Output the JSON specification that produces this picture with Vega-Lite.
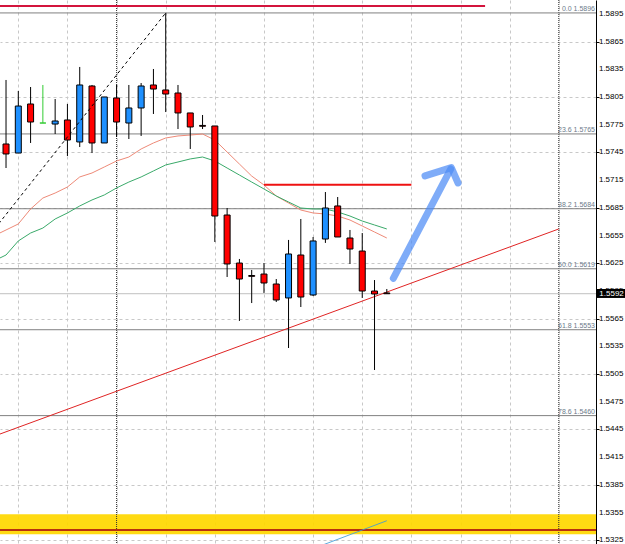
{
  "$schema": "https://vega.github.io/schema/vega-lite/v6.json",
  "width": 596,
  "height": 544,
  "padding": {"left": 0, "top": 0, "bottom": 0, "right": 29},
  "autosize": {"type": "none"},
  "background": "#ffffff",
  "config": {"view": {"stroke": null}, "scale": {"continuousPadding": 0}},
  "datasets": {
    "candles": [
      {"i":0,"open":1.57541,"high":1.58234,"low":1.57281,"close":1.57433},
      {"i":1,"open":1.57443,"high":1.58115,"low":1.57443,"close":1.57952},
      {"i":2,"open":1.57974,"high":1.58158,"low":1.57552,"close":1.57779},
      {"i":3,"open":1.57768,"high":1.5818,"low":1.57768,"close":1.57768},
      {"i":4,"open":1.57757,"high":1.58028,"low":1.57649,"close":1.5779},
      {"i":5,"open":1.57801,"high":1.57974,"low":1.57411,"close":1.57584},
      {"i":6,"open":1.57563,"high":1.58375,"low":1.57508,"close":1.5818},
      {"i":7,"open":1.58169,"high":1.5818,"low":1.57443,"close":1.57552},
      {"i":8,"open":1.57552,"high":1.5805,"low":1.57552,"close":1.5805},
      {"i":9,"open":1.58039,"high":1.5818,"low":1.57617,"close":1.57779},
      {"i":10,"open":1.57768,"high":1.5818,"low":1.57595,"close":1.57931},
      {"i":11,"open":1.57931,"high":1.58201,"low":1.57628,"close":1.58169},
      {"i":12,"open":1.5818,"high":1.58353,"low":1.57866,"close":1.58136},
      {"i":13,"open":1.58126,"high":1.5896,"low":1.57887,"close":1.58082},
      {"i":14,"open":1.58093,"high":1.5818,"low":1.57703,"close":1.57877},
      {"i":15,"open":1.57877,"high":1.57877,"low":1.57487,"close":1.57725},
      {"i":16,"open":1.57742,"high":1.57855,"low":1.57703,"close":1.57733},
      {"i":17,"open":1.57736,"high":1.57736,"low":1.5648,"close":1.56761},
      {"i":18,"open":1.56772,"high":1.56848,"low":1.56101,"close":1.56242},
      {"i":19,"open":1.56252,"high":1.56296,"low":1.55625,"close":1.56079},
      {"i":20,"open":1.56117,"high":1.56177,"low":1.55819,"close":1.56108},
      {"i":21,"open":1.56133,"high":1.56252,"low":1.55928,"close":1.56036},
      {"i":22,"open":1.56025,"high":1.56079,"low":1.5583,"close":1.55852},
      {"i":23,"open":1.55874,"high":1.56502,"low":1.55332,"close":1.5635},
      {"i":24,"open":1.56339,"high":1.56729,"low":1.55776,"close":1.55884},
      {"i":25,"open":1.55906,"high":1.56534,"low":1.55895,"close":1.56491},
      {"i":26,"open":1.56512,"high":1.57021,"low":1.5647,"close":1.56848},
      {"i":27,"open":1.5687,"high":1.56967,"low":1.56534,"close":1.56534},
      {"i":28,"open":1.56523,"high":1.5661,"low":1.56242,"close":1.56404},
      {"i":29,"open":1.56382,"high":1.56577,"low":1.55874,"close":1.55949},
      {"i":30,"open":1.55949,"high":1.56068,"low":1.55094,"close":1.55917},
      {"i":31,"open":1.55928,"high":1.55971,"low":1.55917,"close":1.5592}
    ],
    "ma": [
      {"i":-1,"v":1.56545,"s":"fast"},{"i":0,"v":1.5661,"s":"fast"},{"i":1,"v":1.56675,"s":"fast"},{"i":2,"v":1.56837,"s":"fast"},
      {"i":3,"v":1.56956,"s":"fast"},{"i":4,"v":1.5701,"s":"fast"},{"i":5,"v":1.57075,"s":"fast"},{"i":6,"v":1.57184,"s":"fast"},
      {"i":7,"v":1.57227,"s":"fast"},{"i":8,"v":1.57292,"s":"fast"},{"i":9,"v":1.57357,"s":"fast"},{"i":10,"v":1.574,"s":"fast"},
      {"i":11,"v":1.57487,"s":"fast"},{"i":12,"v":1.57552,"s":"fast"},{"i":13,"v":1.57606,"s":"fast"},{"i":14,"v":1.57628,"s":"fast"},
      {"i":15,"v":1.57638,"s":"fast"},{"i":16,"v":1.57649,"s":"fast"},{"i":17,"v":1.57584,"s":"fast"},{"i":18,"v":1.57454,"s":"fast"},
      {"i":19,"v":1.57324,"s":"fast"},{"i":20,"v":1.57194,"s":"fast"},{"i":21,"v":1.57097,"s":"fast"},{"i":22,"v":1.56978,"s":"fast"},
      {"i":23,"v":1.56902,"s":"fast"},{"i":24,"v":1.56826,"s":"fast"},{"i":25,"v":1.56794,"s":"fast"},{"i":26,"v":1.56783,"s":"fast"},
      {"i":27,"v":1.56761,"s":"fast"},{"i":28,"v":1.56718,"s":"fast"},{"i":29,"v":1.56653,"s":"fast"},{"i":30,"v":1.56588,"s":"fast"},
      {"i":31,"v":1.56523,"s":"fast"},
      {"i":-1,"v":1.56274,"s":"slow"},{"i":0,"v":1.56339,"s":"slow"},{"i":1,"v":1.56491,"s":"slow"},{"i":2,"v":1.56577,"s":"slow"},
      {"i":3,"v":1.56631,"s":"slow"},{"i":4,"v":1.56729,"s":"slow"},{"i":5,"v":1.56794,"s":"slow"},{"i":6,"v":1.5687,"s":"slow"},
      {"i":7,"v":1.56935,"s":"slow"},{"i":8,"v":1.56989,"s":"slow"},{"i":9,"v":1.57065,"s":"slow"},{"i":10,"v":1.57129,"s":"slow"},
      {"i":11,"v":1.57184,"s":"slow"},{"i":12,"v":1.57249,"s":"slow"},{"i":13,"v":1.57314,"s":"slow"},{"i":14,"v":1.57346,"s":"slow"},
      {"i":15,"v":1.57379,"s":"slow"},{"i":16,"v":1.574,"s":"slow"},{"i":17,"v":1.57357,"s":"slow"},{"i":18,"v":1.57281,"s":"slow"},
      {"i":19,"v":1.57205,"s":"slow"},{"i":20,"v":1.57129,"s":"slow"},{"i":21,"v":1.57054,"s":"slow"},{"i":22,"v":1.56978,"s":"slow"},
      {"i":23,"v":1.56913,"s":"slow"},{"i":24,"v":1.56848,"s":"slow"},{"i":25,"v":1.56837,"s":"slow"},{"i":26,"v":1.56837,"s":"slow"},
      {"i":27,"v":1.56805,"s":"slow"},{"i":28,"v":1.56761,"s":"slow"},{"i":29,"v":1.56707,"s":"slow"},{"i":30,"v":1.56664,"s":"slow"},
      {"i":31,"v":1.56621,"s":"slow"}
    ],
    "fib": [
      {"p":1.5896,"label":"0.0 1.5896"},
      {"p":1.5765,"label":"23.6 1.5765"},
      {"p":1.5684,"label":"38.2 1.5684"},
      {"p":1.5619,"label":"50.0 1.5619"},
      {"p":1.5553,"label":"61.8 1.5553"},
      {"p":1.546,"label":"78.6 1.5460"}
    ],
    "ticks": [
      {"p":1.5325,"label":"1.5325"},{"p":1.5355,"label":"1.5355"},{"p":1.5385,"label":"1.5385"},{"p":1.5415,"label":"1.5415"},
      {"p":1.5445,"label":"1.5445"},{"p":1.5475,"label":"1.5475"},{"p":1.5505,"label":"1.5505"},{"p":1.5535,"label":"1.5535"},
      {"p":1.5565,"label":"1.5565"},{"p":1.5595,"label":"1.5595"},{"p":1.5625,"label":"1.5625"},{"p":1.5655,"label":"1.5655"},
      {"p":1.5685,"label":"1.5685"},{"p":1.5715,"label":"1.5715"},{"p":1.5745,"label":"1.5745"},{"p":1.5775,"label":"1.5775"},
      {"p":1.5805,"label":"1.5805"},{"p":1.5835,"label":"1.5835"},{"p":1.5865,"label":"1.5865"},{"p":1.5895,"label":"1.5895"}
    ],
    "lines": [
      {"g":"top","i":-1,"p":1.59035},{"g":"top","i":39,"p":1.59035},
      {"g":"diag","i":-20,"p":1.5342},{"g":"diag","i":13,"p":1.5896},
      {"g":"trend","i":-1,"p":1.54376},{"g":"trend","i":45,"p":1.56621},
      {"g":"mid","i":21,"p":1.571},{"g":"mid","i":33,"p":1.571},
      {"g":"zone","i":-1,"p":1.53362},{"g":"zone","i":49,"p":1.53362},
      {"g":"blue","i":25.5,"p":1.53185},{"g":"blue","i":31,"p":1.53462}
    ],
    "arrow": [
      {"g":"shaft","i":31.53,"p":1.56087},{"g":"shaft","i":36.2,"p":1.5727},
      {"g":"head","i":34.11,"p":1.57195},{"g":"head","i":36.25,"p":1.57285},{"g":"head","i":36.8,"p":1.57119}
    ],
    "sep": [{"i":9},{"i":45}],
    "zone": [{"top":1.53532,"bottom":1.53315}],
    "bid": [{"p":1.5592,"label":"1.5592"}]
  },
  "layer": [
    {
      "data": {"name": "zone"},
      "mark": {"type": "rect", "fill": "#FFD700", "opacity": 0.93, "clip": true},
      "encoding": {
        "x": {"datum": -0.49, "type": "quantitative",
              "scale": {"domain": [-0.49, 48.03], "nice": false, "zero": false, "padding": 0},
              "axis": {"values": [1,3,5,7,9,11,13,15,17,19,21,23,25,27,29,31,33,35,37,39,41,43,45,47],
                       "grid": true, "labels": false, "ticks": false, "domain": false, "title": null,
                       "gridColor": "#c8c8c8", "gridDash": [3,3], "gridWidth": 1}},
        "x2": {"datum": 48.03},
        "y": {"field": "top", "type": "quantitative",
              "scale": {"domain": [1.5321, 1.591], "nice": false, "zero": false, "padding": 0},
              "axis": {"orient": "right", "title": null, "labels": false,
                       "values": [1.5325,1.5355,1.5385,1.5415,1.5445,1.5475,1.5505,1.5535,1.5565,1.5595,1.5625,1.5655,1.5685,1.5715,1.5745,1.5775,1.5805,1.5835,1.5865,1.5895],
                       "tickColor": "#000000", "tickSize": 3, "domainColor": "#000000", "domainWidth": 1,
                       "grid": true, "gridColor": "#c8c8c8", "gridDash": [3,3], "gridWidth": 1}},
        "y2": {"field": "bottom"}
      }
    },
    {
      "data": {"name": "ticks"},
      "mark": {"type": "text", "color": "#000000", "font": "Liberation Sans", "fontSize": 8, "align": "left", "baseline": "middle", "clip": false},
      "encoding": {
        "x": {"datum": 48.27, "type": "quantitative"},
        "y": {"field": "p", "type": "quantitative"},
        "text": {"field": "label"}
      }
    },
    {
      "data": {"name": "sep"},
      "mark": {"type": "rule", "color": "#303030", "strokeDash": [1,1], "strokeWidth": 1},
      "encoding": {
        "x": {"field": "i", "type": "quantitative"}
      }
    },
    {
      "data": {"name": "fib"},
      "mark": {"type": "rule", "color": "#808080", "strokeWidth": 1, "clip": true},
      "encoding": {
        "x": {"datum": -0.49, "type": "quantitative"},
        "x2": {"datum": 48.03},
        "y": {"field": "p", "type": "quantitative"}
      }
    },
    {
      "data": {"name": "fib"},
      "mark": {"type": "text", "color": "#6c7b8b", "font": "Liberation Sans", "fontSize": 7, "align": "right", "baseline": "alphabetic", "dy": -2},
      "encoding": {
        "x": {"datum": 47.95, "type": "quantitative"},
        "y": {"field": "p", "type": "quantitative"},
        "text": {"field": "label"}
      }
    },
    {
      "data": {"name": "bid"},
      "mark": {"type": "rule", "color": "#c0c0c0", "strokeWidth": 1},
      "encoding": {
        "y": {"field": "p", "type": "quantitative"}
      }
    },
    {
      "data": {"name": "ma"},
      "mark": {"type": "line", "strokeWidth": 1, "clip": true},
      "encoding": {
        "x": {"field": "i", "type": "quantitative"},
        "y": {"field": "v", "type": "quantitative"},
        "color": {"field": "s", "type": "nominal", "scale": {"domain": ["fast","slow"], "range": ["#EE8A78","#3AAA6A"]}, "legend": null}
      }
    },
    {
      "data": {"name": "lines"},
      "transform": [{"filter": "datum.g == 'zone'"}],
      "mark": {"type": "line", "color": "#B8300E", "strokeWidth": 2, "clip": true},
      "encoding": {
        "x": {"field": "i", "type": "quantitative"},
        "y": {"field": "p", "type": "quantitative"}
      }
    },
    {
      "data": {"name": "lines"},
      "transform": [{"filter": "datum.g == 'blue'"}],
      "mark": {"type": "line", "color": "#3E9BD8", "strokeWidth": 1, "opacity": 0.85, "clip": true},
      "encoding": {
        "x": {"field": "i", "type": "quantitative"},
        "y": {"field": "p", "type": "quantitative"}
      }
    },
    {
      "data": {"name": "lines"},
      "transform": [{"filter": "datum.g == 'top'"}],
      "mark": {"type": "line", "color": "#D3143C", "strokeWidth": 2, "clip": true},
      "encoding": {
        "x": {"field": "i", "type": "quantitative"},
        "y": {"field": "p", "type": "quantitative"}
      }
    },
    {
      "data": {"name": "lines"},
      "transform": [{"filter": "datum.g == 'trend'"}],
      "mark": {"type": "line", "color": "#E02424", "strokeWidth": 1, "clip": true},
      "encoding": {
        "x": {"field": "i", "type": "quantitative"},
        "y": {"field": "p", "type": "quantitative"}
      }
    },
    {
      "data": {"name": "lines"},
      "transform": [{"filter": "datum.g == 'mid'"}],
      "mark": {"type": "line", "color": "#EE1111", "strokeWidth": 2, "clip": true},
      "encoding": {
        "x": {"field": "i", "type": "quantitative"},
        "y": {"field": "p", "type": "quantitative"}
      }
    },
    {
      "data": {"name": "candles"},
      "mark": {"type": "rule", "strokeWidth": 1},
      "encoding": {
        "x": {"field": "i", "type": "quantitative"},
        "y": {"field": "low", "type": "quantitative"},
        "y2": {"field": "high"},
        "stroke": {"condition": {"test": "datum.close == datum.open", "value": "#33CC33"}, "value": "#000000"}
      }
    },
    {
      "data": {"name": "candles"},
      "mark": {"type": "bar", "size": 6, "strokeWidth": 1},
      "encoding": {
        "x": {"field": "i", "type": "quantitative"},
        "y": {"field": "open", "type": "quantitative"},
        "y2": {"field": "close"},
        "fill": {"condition": [{"test": "datum.close > datum.open", "value": "#1E90FF"}, {"test": "datum.close < datum.open", "value": "#FF0000"}], "value": "#33CC33"},
        "stroke": {"condition": {"test": "datum.close == datum.open", "value": "#33CC33"}, "value": "#000000"}
      }
    },
    {
      "data": {"name": "lines"},
      "transform": [{"filter": "datum.g == 'diag'"}],
      "mark": {"type": "line", "color": "#000000", "strokeWidth": 1, "strokeDash": [3,3], "clip": true},
      "encoding": {
        "x": {"field": "i", "type": "quantitative"},
        "y": {"field": "p", "type": "quantitative"}
      }
    },
    {
      "data": {"name": "arrow"},
      "mark": {"type": "line", "color": "#4D8CF5", "strokeWidth": 7, "opacity": 0.72, "strokeCap": "round", "strokeJoin": "round"},
      "encoding": {
        "x": {"field": "i", "type": "quantitative"},
        "y": {"field": "p", "type": "quantitative"},
        "detail": {"field": "g"}
      }
    },
    {
      "data": {"name": "bid"},
      "mark": {"type": "rect", "fill": "#000000", "clip": false},
      "encoding": {
        "x": {"datum": 48.11, "type": "quantitative"},
        "x2": {"datum": 50.4},
        "y": {"datum": 1.55971, "type": "quantitative"},
        "y2": {"datum": 1.55874}
      }
    },
    {
      "data": {"name": "bid"},
      "mark": {"type": "text", "color": "#ffffff", "font": "Liberation Sans", "fontSize": 8, "align": "left", "baseline": "middle", "clip": false},
      "encoding": {
        "x": {"datum": 48.3, "type": "quantitative"},
        "y": {"field": "p", "type": "quantitative"},
        "text": {"field": "label"}
      }
    }
  ]
}
